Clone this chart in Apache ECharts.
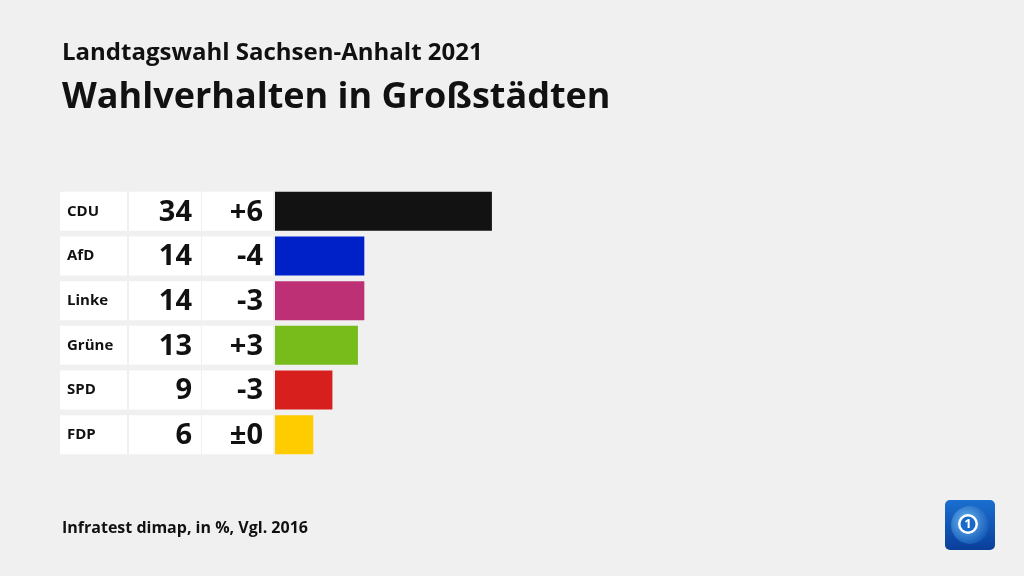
<!DOCTYPE html>
<html><head><meta charset="utf-8">
<script src="https://cdn.jsdelivr.net/npm/echarts@6/dist/echarts.min.js"></script>
<style>html,body{margin:0;padding:0;background:#f0f0f0;}#c{width:1024px;height:576px;}</style>
</head><body><div id="c"></div>
<script>
const parties = ['CDU', 'AfD', 'Linke', 'Grüne', 'SPD', 'FDP'];
const shares = [34, 14, 14, 13, 9, 6];
const changes = ['+6', '-4', '-3', '+3', '-3', '±0'];
const colors = ['#121212', '#0021c8', '#be3075', '#78bc1b', '#d71f1d', '#ffcc00'];

const FONT = '"Open Sans", "Noto Sans", sans-serif';
const chart = echarts.init(document.getElementById('c'));

chart.setOption({
  backgroundColor: '#f0f0f0',
  animation: false,
  title: [
    { text: 'Landtagswahl Sachsen-Anhalt 2021', left: 57, top: 36,
      textStyle: { fontFamily: FONT, fontWeight: 700, fontSize: 24, color: '#111' } },
    { text: 'Wahlverhalten in Großstädten', left: 57, top: 75,
      textStyle: { fontFamily: FONT, fontWeight: 700, fontSize: 36, color: '#111' } },
    { text: 'Infratest dimap, in %, Vgl. 2016', left: 57, top: 515,
      textStyle: { fontFamily: FONT, fontWeight: 700, fontSize: 16, color: '#111' } }
  ],
  grid: { left: 275, top: 189, width: 638, height: 268 },
  xAxis: { type: 'value', min: 0, max: 100, show: false },
  yAxis: { type: 'category', data: parties, inverse: true, show: false },
  series: [
    {
      type: 'custom',
      data: parties.map((p, i) => [0, i]),
      encode: { x: 0, y: 1 },
      z: 1,
      renderItem: function (params, api) {
        const i = api.value(1);
        const pt = api.coord([0, i]);
        const x0 = pt[0], yc = pt[1];
        const h = 39, top = yc - h / 2;
        return {
          type: 'group',
          children: [
            { type: 'rect', shape: { x: x0 - 215, y: top, width: 67, height: h }, style: { fill: '#ffffff' } },
            { type: 'rect', shape: { x: x0 - 146, y: top, width: 72, height: h }, style: { fill: '#ffffff' } },
            { type: 'rect', shape: { x: x0 - 73, y: top, width: 71, height: h }, style: { fill: '#ffffff' } },
            { type: 'text', style: { x: x0 - 208, y: yc, text: parties[i], textVerticalAlign: 'middle', textAlign: 'left',
                fontFamily: FONT, fontWeight: 700, fontSize: 15, fill: '#111' } },
            { type: 'text', style: { x: x0 - 83, y: yc + 1, text: String(shares[i]), textVerticalAlign: 'middle', textAlign: 'right',
                fontFamily: FONT, fontWeight: 700, fontSize: 29, fill: '#111' } },
            { type: 'text', style: { x: x0 - 12, y: yc + 1, text: changes[i], textVerticalAlign: 'middle', textAlign: 'right',
                fontFamily: FONT, fontWeight: 700, fontSize: 29, fill: '#111' } }
          ]
        };
      }
    },
    {
      type: 'bar',
      data: shares.map((v, i) => ({ value: v, itemStyle: { color: colors[i] } })),
      barWidth: 39,
      z: 2
    }
  ],
  graphic: [
    {
      type: 'group', left: 945, top: 500,
      children: [
        { type: 'rect', shape: { x: 0, y: 0, width: 50, height: 50, r: 5 },
          style: { fill: new echarts.graphic.LinearGradient(0, 0, 0, 1, [{ offset: 0, color: '#1a6fd0' }, { offset: 1, color: '#0a3e9a' }]) } },
        { type: 'circle', shape: { cx: 25, cy: 25, r: 19 },
          style: { fill: new echarts.graphic.RadialGradient(0.4, 0.4, 0.7, [{ offset: 0, color: '#6ab8f5' }, { offset: 1, color: '#0b4fb0' }]) } },
        { type: 'circle', shape: { cx: 23, cy: 24, r: 10 }, style: { fill: '#ffffff' } },
        { type: 'circle', shape: { cx: 23, cy: 24, r: 7.5 }, style: { fill: '#1769c8' } },
        { type: 'text', style: { x: 23, y: 24.5, text: '1', textAlign: 'center', textVerticalAlign: 'middle',
            fontFamily: FONT, fontWeight: 700, fontSize: 13, fill: '#ffffff' } }
      ]
    }
  ]
});
</script>
</body></html>
